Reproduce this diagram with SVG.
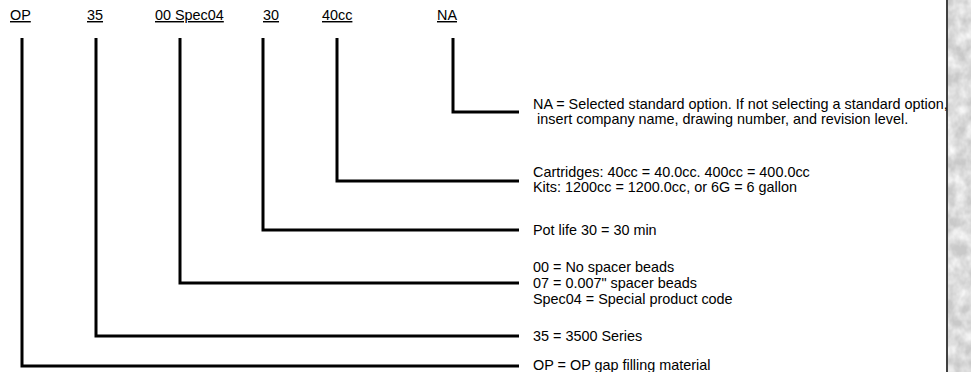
<svg xmlns="http://www.w3.org/2000/svg" width="971" height="372" viewBox="0 0 971 372">
  <style>
    text { font-family: "Liberation Sans", Arial, sans-serif; font-size: 14.4px; fill: #000; }
    .code { text-decoration: underline; }
    .conn { fill: none; stroke: #000; stroke-width: 3; stroke-linejoin: miter; stroke-linecap: butt; }
  </style>
  <defs>
    <filter id="marble" x="0" y="0" width="100%" height="100%">
      <feTurbulence type="fractalNoise" baseFrequency="0.09 0.07" numOctaves="3" seed="11" result="n"/>
      <feColorMatrix in="n" type="matrix" values="0 0 0 0 1  0 0 0 0 1  0 0 0 0 1  1.4 0 0 0 -0.35"/>
    </filter>
  </defs>
  <rect x="0" y="0" width="971" height="372" fill="#fff"/>

  <!-- textured right edge -->
  <g id="edge">
    <rect x="948" y="0" width="23" height="372" fill="#c9c9c9"/>
    <rect x="948" y="0" width="23" height="372" fill="#f4f4f4" filter="url(#marble)"/>
    <line x1="947" y1="0" x2="947" y2="372" stroke="#111" stroke-width="1.6"/>
  </g>

  <!-- code labels -->
  <g id="code-OP"><text class="code" x="10" y="20">OP</text></g>
  <g id="code-35"><text class="code" x="87" y="20">35</text></g>
  <g id="code-00"><text class="code" x="155" y="20">00 Spec04</text></g>
  <g id="code-30"><text class="code" x="263" y="20">30</text></g>
  <g id="code-40cc"><text class="code" x="322" y="20">40cc</text></g>
  <g id="code-NA"><text class="code" x="437" y="20">NA</text></g>

  <!-- connectors -->
  <g id="connectors">
    <polyline class="conn" points="453,38 453,112 519,112"/>
    <polyline class="conn" points="337,38 337,181 519,181"/>
    <polyline class="conn" points="263,38 263,230 519,230"/>
    <polyline class="conn" points="180,38 180,283 519,283"/>
    <polyline class="conn" points="96,38 96,336 519,336"/>
    <polyline class="conn" points="22,38 22,366 519,366"/>
  </g>

  <!-- descriptions -->
  <g id="desc-NA">
    <text x="533" y="109">NA = Selected standard option. If not selecting a standard option,</text>
    <text x="537" y="124">insert company name, drawing number, and revision level.</text>
  </g>
  <g id="desc-40cc">
    <text x="533" y="177">Cartridges: 40cc = 40.0cc. 400cc = 400.0cc</text>
    <text x="533" y="192">Kits: 1200cc = 1200.0cc, or 6G = 6 gallon</text>
  </g>
  <g id="desc-30">
    <text x="533" y="235">Pot life 30 = 30 min</text>
  </g>
  <g id="desc-00">
    <text x="533" y="272">00 = No spacer beads</text>
    <text x="533" y="288">07 = 0.007" spacer beads</text>
    <text x="533" y="304">Spec04 = Special product code</text>
  </g>
  <g id="desc-35">
    <text x="533" y="341">35 = 3500 Series</text>
  </g>
  <g id="desc-OP">
    <text x="533" y="370">OP = OP gap filling material</text>
  </g>
</svg>
